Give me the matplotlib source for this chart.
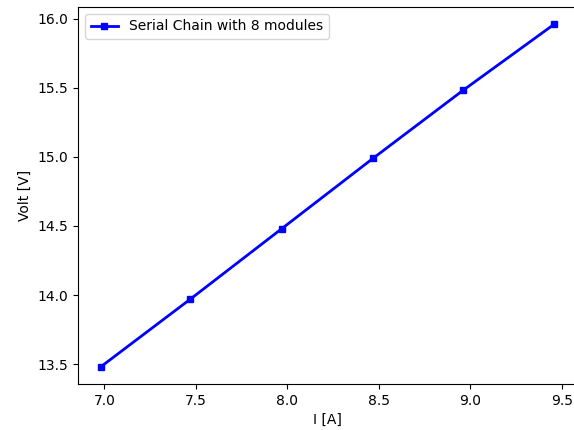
import matplotlib
matplotlib.use("Agg")
import matplotlib.pyplot as plt

current = [6.98, 7.47, 7.97, 8.47, 8.96, 9.46]
volt = [13.48, 13.97, 14.48, 14.99, 15.48, 15.96]
label = "Serial Chain with 8 modules"

fig = plt.figure(figsize=(5.74, 4.3), dpi=100)
ax = fig.add_axes([78 / 574, 1 - 384 / 430, (577 - 78) / 574, (384 - 7) / 430])
ax.plot(current, volt, 'b-s', linewidth=2, markersize=5, label=label)
ax.set_xlabel("I [A]")
ax.set_ylabel("Volt [V]")
ax.legend(loc='upper left')
fig.savefig("out.png", dpi=100)
